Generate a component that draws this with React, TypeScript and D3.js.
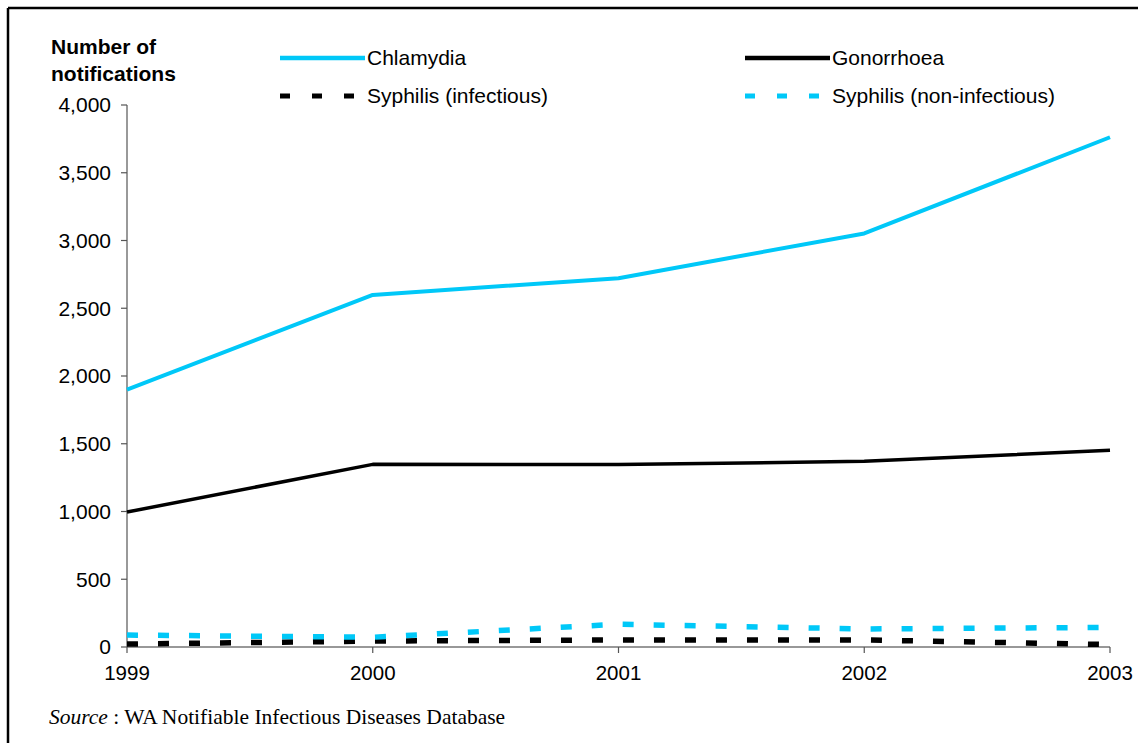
import React, { useEffect } from "react";
import * as d3 from "d3";

const years = [1999, 2000, 2001, 2002, 2003];
const chlamydia = [1900, 2598, 2722, 3052, 3762];
const gonorrhoea = [996, 1348, 1346, 1370, 1452];
const syphilisInfectious = [22, 44, 52, 52, 18];
const syphilisNonInfectious = [88, 72, 168, 133, 145];
const yTicks = [0, 500, 1000, 1500, 2000, 2500, 3000, 3500, 4000];

const W = 1138;
const H = 743;
const FONT = "'Liberation Sans', Arial, sans-serif";
const SERIF = "'Liberation Serif', 'Times New Roman', serif";
const BLUE = "#00c8f8";

type Series = { name: string; values: number[]; color: string; dashed: boolean; width: number };
const series: Series[] = [
  { name: "Chlamydia", values: chlamydia, color: BLUE, dashed: false, width: 4 },
  { name: "Gonorrhoea", values: gonorrhoea, color: "#000", dashed: false, width: 3.5 },
  { name: "Syphilis (infectious)", values: syphilisInfectious, color: "#000", dashed: true, width: 5.5 },
  { name: "Syphilis (non-infectious)", values: syphilisNonInfectious, color: BLUE, dashed: true, width: 5.5 },
];

function T(props: {
  x: number;
  y: number;
  anchor?: "start" | "middle" | "end";
  size?: number;
  bold?: boolean;
  family?: string;
  children: React.ReactNode;
}) {
  const { x, y, anchor = "start", size = 21, bold = false, family = FONT, children } = props;
  return (
    <text
      x={x}
      y={y}
      textAnchor={anchor}
      dy="0.35em"
      fontFamily={family}
      fontSize={size}
      fontWeight={bold ? "bold" : "normal"}
      fill="#000"
    >
      {children}
    </text>
  );
}

export default function App() {
  useEffect(() => {
    document.body.style.margin = "0";
  }, []);

  const x = d3.scaleLinear().domain([1999, 2003]).range([127, 1110]);
  const y = d3.scaleLinear().domain([0, 4000]).range([647, 105]);
  const line = d3
    .line<number>()
    .x((_, i) => x(years[i]))
    .y((d) => y(d));

  const legendPos = [
    { x: 280, y: 58 },
    { x: 745, y: 58 },
    { x: 280, y: 96 },
    { x: 745, y: 96 },
  ];

  return (
    <svg width={W} height={H} style={{ display: "block", background: "#fff" }}>
      {/* frame */}
      <line x1={8} y1={8} x2={W} y2={8} stroke="#000" strokeWidth={2.5} />
      <line x1={8} y1={8} x2={8} y2={H} stroke="#000" strokeWidth={2.5} />

      {/* y axis title */}
      <T x={51} y={47} bold size={21}>Number of</T>
      <T x={51} y={74} bold size={21}>notifications</T>

      {/* y axis */}
      <line x1={x(1999)} y1={y(4000)} x2={x(1999)} y2={y(0)} stroke="#555" strokeWidth={1.2} />
      {yTicks.map((t) => (
        <g key={t}>
          <line x1={x(1999) - 6} x2={x(1999)} y1={y(t)} y2={y(t)} stroke="#555" strokeWidth={1.2} />
          <T x={111} y={y(t)} anchor="end">
            {d3.format(",")(t)}
          </T>
        </g>
      ))}

      {/* x axis */}
      <line x1={x(1999)} y1={y(0)} x2={x(2003)} y2={y(0)} stroke="#333" strokeWidth={1.2} />
      {years.map((yr) => (
        <g key={yr}>
          <line x1={x(yr)} x2={x(yr)} y1={y(0)} y2={y(0) + 6} stroke="#555" strokeWidth={1.2} />
          <T x={x(yr)} y={y(0) + 26} anchor="middle" size={20.5}>
            {yr}
          </T>
        </g>
      ))}

      {/* series */}
      {series.map((s) => (
        <path
          key={s.name}
          d={line(s.values) || ""}
          fill="none"
          stroke={s.color}
          strokeWidth={s.width}
          strokeDasharray={s.dashed ? "11 20" : undefined}
          strokeLinejoin="round"
        />
      ))}

      {/* legend */}
      {series.map((s, i) => {
        const p = legendPos[i];
        return (
          <g key={s.name}>
            <line
              x1={p.x}
              x2={s.dashed ? p.x + 75 : p.x + 85}
              y1={p.y}
              y2={p.y}
              stroke={s.color}
              strokeWidth={s.dashed ? 5 : 4.5}
              strokeDasharray={s.dashed ? "10 22" : undefined}
            />
            <T x={p.x + 87} y={p.y}>
              {s.name}
            </T>
          </g>
        );
      })}

      {/* source */}
      <T x={49} y={716} family={SERIF} size={21.5}>
        <tspan fontStyle="italic">Source</tspan>
        <tspan> : WA Notifiable Infectious Diseases Database</tspan>
      </T>
    </svg>
  );
}
